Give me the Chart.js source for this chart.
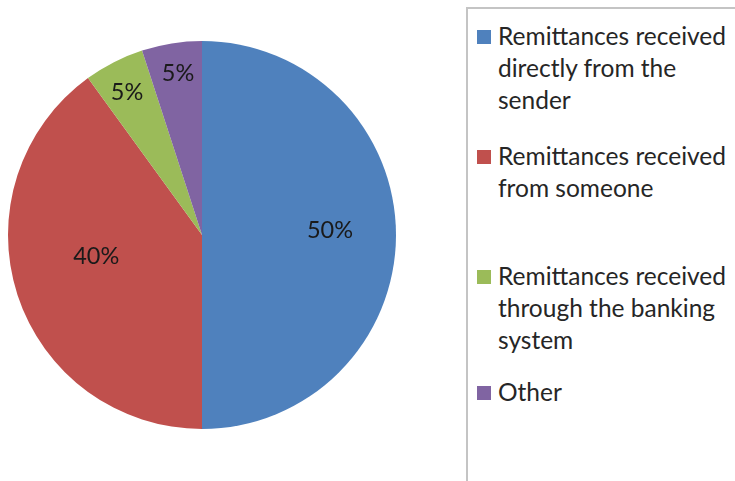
<!DOCTYPE html>
<html>
<head>
<meta charset="utf-8">
<script src="https://cdn.jsdelivr.net/npm/chart.js@4"></script>
<style>
  body { margin: 0; background: #fff; width: 735px; height: 481px; overflow: hidden; position: relative; font-family: Lato, "Open Sans", sans-serif; }
  #pie-wrap { position: absolute; left: 0; top: 0; width: 404px; height: 470px; }
  #legend { position: absolute; left: 466px; top: 7px; width: 300px; height: 500px; border: 2px solid #c4c4c4; box-sizing: border-box; }
  .item { position: absolute; left: 9px; width: 280px; }
  .sw { position: absolute; left: 0; top: 10px; width: 14px; height: 14px; }
  .txt { position: absolute; left: 21px; top: 0; width: 236px; font-size: 24.5px; line-height: 32px; color: #262626; }
</style>
</head>
<body>
<div id="pie-wrap"><canvas id="pie"></canvas></div>
<div id="legend"></div>
<script>
// datos
var categorias = [
  'Remittances received directly from the sender',
  'Remittances received from someone',
  'Remittances received through the banking system',
  'Other'
];
var valores = [50, 40, 5, 5];
var colores = ['#4F81BD', '#C0504D', '#9BBB59', '#8064A2'];

// ubicacion de cada etiqueta: fraccion del radio y giro (grados) respecto al centro del sector
var radioEtiqueta = [0.66, 0.557, 0.828, 0.844];
var giroEtiqueta = [-2.2, 6.3, -0.8, 0.6];

var etiquetasPlugin = {
  id: 'etiquetas',
  afterDatasetsDraw: function(chart) {
    var ctx = chart.ctx;
    var meta = chart.getDatasetMeta(0);
    var total = valores.reduce(function(a, b) { return a + b; }, 0);
    ctx.save();
    ctx.font = '23.5px Lato, "Open Sans", sans-serif';
    ctx.fillStyle = '#1a1a1a';
    ctx.textAlign = 'center';
    ctx.textBaseline = 'middle';
    meta.data.forEach(function(arc, i) {
      var p = arc.getProps(['x', 'y', 'startAngle', 'endAngle', 'outerRadius'], true);
      var medio = (p.startAngle + p.endAngle) / 2 + giroEtiqueta[i] * Math.PI / 180;
      var r = p.outerRadius * radioEtiqueta[i];
      var x = p.x + Math.cos(medio) * r;
      var y = p.y + Math.sin(medio) * r;
      ctx.fillText(Math.round(valores[i] / total * 100) + '%', x, y);
    });
    ctx.restore();
  }
};

var grafico = new Chart(document.getElementById('pie'), {
  type: 'pie',
  data: {
    labels: categorias,
    datasets: [{
      data: valores,
      backgroundColor: colores,
      borderWidth: 0
    }]
  },
  options: {
    responsive: true,
    maintainAspectRatio: false,
    animation: false,
    layout: { padding: { left: 8, right: 8, top: 41, bottom: 41 } },
    plugins: {
      legend: { display: false },
      tooltip: { enabled: false }
    }
  },
  plugins: [etiquetasPlugin]
});

// leyenda en HTML a partir de los items de Chart.js
var leyenda = document.getElementById('legend');
var items = grafico.options.plugins.legend.labels.generateLabels(grafico);
var tops = [11, 131, 251, 367];
items.forEach(function(it, i) {
  var div = document.createElement('div');
  div.className = 'item';
  div.style.top = tops[i] + 'px';
  var sw = document.createElement('div');
  sw.className = 'sw';
  sw.style.background = it.fillStyle;
  var txt = document.createElement('div');
  txt.className = 'txt';
  txt.textContent = it.text;
  div.appendChild(sw);
  div.appendChild(txt);
  leyenda.appendChild(div);
});
</script>
</body>
</html>
